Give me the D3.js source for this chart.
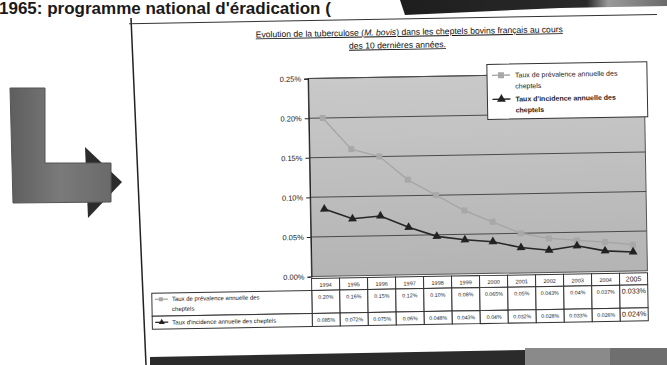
<!DOCTYPE html>
<html>
<head>
<meta charset="utf-8">
<script src="https://cdn.jsdelivr.net/npm/d3@7"></script>
<style>
body { margin: 0; background: #fff; }
svg { display: block; font-family: "Liberation Sans", Arial, sans-serif; }
</style>
</head>
<body>
<div id="slide"></div>
<script>
// data: yearly rates (in %) of bovine tuberculosis in French herds
var years = ["1994", "1995", "1996", "1997", "1998", "1999", "2000", "2001", "2002", "2003", "2004", "2005"];
var prevalence = [0.20, 0.16, 0.15, 0.12, 0.10, 0.08, 0.065, 0.05, 0.043, 0.04, 0.037, 0.033];
var incidence = [0.085, 0.072, 0.075, 0.06, 0.048, 0.043, 0.04, 0.032, 0.028, 0.033, 0.026, 0.024];
var yTicks = [0, 0.05, 0.10, 0.15, 0.20, 0.25];
var seriesNames = ["Taux de prévalence annuelle des cheptels", "Taux d'incidence annuelle des cheptels"];

var w = 667, h = 365;
var svg = d3.select("#slide").append("svg").attr("width", w).attr("height", h);

// percent label, 2 or 3 decimals
function pct(v) {
  var t = v.toFixed(3);
  if (t.slice(-1) === "0") t = t.slice(0, -1);
  return t + "%";
}

/////////////////////////
// slide decorations
/////////////////////////
var defs = svg.append("defs");
var band = defs.append("linearGradient").attr("id", "band").attr("x1", "0%").attr("x2", "100%");
band.append("stop").attr("offset", "0%").attr("stop-color", "#1e1e1e");
band.append("stop").attr("offset", "70%").attr("stop-color", "#2a2a2a");
band.append("stop").attr("offset", "78%").attr("stop-color", "#9a9a9a");
band.append("stop").attr("offset", "100%").attr("stop-color", "#6a6a6a");

svg.append("path")
  .attr("d", "M400,0 L667,0 L667,6 L560,8 L405,15 Z")
  .attr("fill", "url(#band)");

svg.append("text")
  .attr("x", -1).attr("y", 14)
  .attr("font-size", 17).attr("font-weight", "bold")
  .attr("fill", "#1a1a1a")
  .text("1965: programme national d'éradication (");

// L-shaped arrow on the left
var arrowGrad = defs.append("linearGradient").attr("id", "arrowGrad").attr("x1", "0%").attr("x2", "100%");
arrowGrad.append("stop").attr("offset", "0%").attr("stop-color", "#5e5e5e");
arrowGrad.append("stop").attr("offset", "50%").attr("stop-color", "#7a7a7a");
arrowGrad.append("stop").attr("offset", "100%").attr("stop-color", "#6a6a6a");
svg.append("path")
  .attr("d", "M85,147 L122,182 L88,218 Z")
  .attr("fill", "#2c2c2c");
svg.append("path")
  .attr("d", "M10,88 L45,88 L45,163 L111,163 L111,202 L13,203 Z")
  .attr("fill", "url(#arrowGrad)")
  .attr("stroke", "#555").attr("stroke-width", 1);

// bottom band
svg.append("path")
  .attr("d", "M150,357 L525,350 L525,365 L150,365 Z")
  .attr("fill", "#2b2b2b");
svg.append("rect").attr("x", 525).attr("y", 348).attr("width", 142).attr("height", 17).attr("fill", "#8a8a8a");
svg.append("rect").attr("x", 610).attr("y", 348).attr("width", 57).attr("height", 17).attr("fill", "#6f6f6f");

// left border of the chart frame
svg.append("path")
  .attr("d", "M131,18 L146,365")
  .attr("stroke", "#222").attr("stroke-width", 1.5).attr("fill", "none");

/////////////////////////
// chart (slightly tilted)
/////////////////////////
var g = svg.append("g").attr("transform", "rotate(-1,400,190)");

g.append("path").attr("d", "M132,19 L660,19").attr("stroke", "#333").attr("stroke-width", 1);

var title = g.append("text").attr("text-anchor", "middle").attr("font-size", 8.6)
  .attr("text-decoration", "underline").attr("fill", "#111");
title.append("tspan").attr("x", 412).attr("y", 35).text("Evolution de la tuberculose (");
title.append("tspan").attr("font-style", "italic").text("M. bovis");
title.append("tspan").text(") dans les cheptels bovins français au cours");
g.append("text").attr("text-anchor", "middle").attr("font-size", 8.6)
  .attr("text-decoration", "underline").attr("fill", "#111")
  .attr("x", 400).attr("y", 48).text("des 10 dernières années.");

var x = d3.scaleBand().domain(years).range([310, 646]);
var y = d3.scaleLinear().domain([0, 0.25]).range([275, 77]);

// plot area
var plotGrad = defs.append("linearGradient").attr("id", "plotGrad").attr("x1", "0%").attr("x2", "0%").attr("y1", "0%").attr("y2", "100%");
plotGrad.append("stop").attr("offset", "0%").attr("stop-color", "#c9c9c9");
plotGrad.append("stop").attr("offset", "100%").attr("stop-color", "#b4b4b4");
g.append("rect")
  .attr("x", 310).attr("y", y(0.25))
  .attr("width", 336).attr("height", y(0) - y(0.25))
  .attr("fill", "url(#plotGrad)")
  .attr("stroke", "#555").attr("stroke-width", 1);

g.selectAll("line.grid").data(yTicks.slice(1)).enter().append("line")
  .attr("class", "grid")
  .attr("x1", 310).attr("x2", 646)
  .attr("y1", function(d) { return y(d); }).attr("y2", function(d) { return y(d); })
  .attr("stroke", "#4a4a4a").attr("stroke-width", 1);

var yAxis = d3.axisLeft(y).tickValues(yTicks).tickSize(4).tickFormat(function(d) { return d.toFixed(2) + "%"; });
var ya = g.append("g").attr("transform", "translate(310,0)").call(yAxis);
ya.select(".domain").attr("stroke", "#222");
ya.selectAll(".tick line").attr("stroke", "#222");
ya.selectAll(".tick text").attr("font-size", 7.5).attr("fill", "#222")
  .attr("font-family", "Liberation Sans, Arial, sans-serif");

// series
var line = d3.line()
  .x(function(d, i) { return x(years[i]) + x.bandwidth() / 2; })
  .y(function(d) { return y(d); });

g.append("path").datum(prevalence).attr("d", line)
  .attr("fill", "none").attr("stroke", "#a6a6a6").attr("stroke-width", 1.4);
g.selectAll("rect.prev").data(prevalence).enter().append("rect")
  .attr("class", "prev")
  .attr("x", function(d, i) { return x(years[i]) + x.bandwidth() / 2 - 3; })
  .attr("y", function(d) { return y(d) - 3; })
  .attr("width", 6).attr("height", 6)
  .attr("fill", "#a8a8a8");

g.append("path").datum(incidence).attr("d", line)
  .attr("fill", "none").attr("stroke", "#262626").attr("stroke-width", 1.6);
var tri = d3.symbol().type(d3.symbolTriangle).size(34);
g.selectAll("path.inc").data(incidence).enter().append("path")
  .attr("class", "inc")
  .attr("transform", function(d, i) { return "translate(" + (x(years[i]) + x.bandwidth() / 2) + "," + y(d) + ")"; })
  .attr("d", tri)
  .attr("fill", "#222");

// legend
var lg = g.append("g");
lg.append("rect").attr("x", 489).attr("y", 66).attr("width", 160).attr("height", 55)
  .attr("fill", "#fff").attr("stroke", "#333").attr("stroke-width", 1);
var legendRows = [
  { name: ["Taux de prévalence annuelle des", "cheptels"], color: "#a6a6a6", y: 77, bold: false },
  { name: ["Taux d'incidence annuelle des", "cheptels"], color: "#222", y: 101, bold: true }
];
legendRows.forEach(function(r, k) {
  lg.append("line").attr("x1", 494).attr("x2", 512).attr("y1", r.y).attr("y2", r.y)
    .attr("stroke", r.color).attr("stroke-width", 1.4);
  if (k === 0) {
    lg.append("rect").attr("x", 500).attr("y", r.y - 3).attr("width", 6).attr("height", 6).attr("fill", "#a8a8a8");
  } else {
    lg.append("path").attr("transform", "translate(503," + r.y + ")").attr("d", tri).attr("fill", "#222");
  }
  r.name.forEach(function(t, j) {
    lg.append("text").attr("x", 517).attr("y", r.y + 2.5 + j * 11)
      .attr("font-size", 7).attr("fill", "#222")
      .attr("font-weight", r.bold ? "bold" : "normal")
      .text(t);
  });
});

// data table under the plot
var rowTop = [277, 289, 312, 325];
var tbl = g.append("g");
tbl.selectAll("rect.head").data(years).enter().append("rect")
  .attr("class", "head")
  .attr("x", function(d) { return x(d); }).attr("y", rowTop[0])
  .attr("width", x.bandwidth()).attr("height", rowTop[1] - rowTop[0])
  .attr("fill", "#fff").attr("stroke", "#333");
tbl.selectAll("text.head").data(years).enter().append("text")
  .attr("class", "head")
  .attr("x", function(d) { return x(d) + x.bandwidth() / 2; }).attr("y", rowTop[0] + 8.5)
  .attr("text-anchor", "middle").attr("font-size", function(d, i) { return i === 11 ? 7 : 5.5; })
  .attr("fill", "#222").text(function(d) { return d; });

[prevalence, incidence].forEach(function(vals, r) {
  tbl.selectAll("rect.r" + r).data(vals).enter().append("rect")
    .attr("class", "r" + r)
    .attr("x", function(d, i) { return x(years[i]); }).attr("y", rowTop[r + 1])
    .attr("width", x.bandwidth()).attr("height", rowTop[r + 2] - rowTop[r + 1])
    .attr("fill", "#fff").attr("stroke", "#333");
  tbl.selectAll("text.r" + r).data(vals).enter().append("text")
    .attr("class", "r" + r)
    .attr("x", function(d, i) { return x(years[i]) + x.bandwidth() / 2; })
    .attr("y", rowTop[r + 1] + 8.5)
    .attr("text-anchor", "middle")
    .attr("font-size", function(d, i) { return i === 11 ? 7.2 : 5.3; })
    .attr("fill", "#222")
    .text(function(d) { return pct(d); });

  // row header with key
  tbl.append("rect").attr("x", 150).attr("y", rowTop[r + 1])
    .attr("width", 160).attr("height", rowTop[r + 2] - rowTop[r + 1])
    .attr("fill", "#fff").attr("stroke", "#333");
  var ky = rowTop[r + 1] + 6;
  tbl.append("line").attr("x1", 153).attr("x2", 166).attr("y1", ky).attr("y2", ky)
    .attr("stroke", r === 0 ? "#a6a6a6" : "#222").attr("stroke-width", 1.3);
  if (r === 0) {
    tbl.append("rect").attr("x", 157).attr("y", ky - 2).attr("width", 4).attr("height", 4).attr("fill", "#a8a8a8");
  } else {
    tbl.append("path").attr("transform", "translate(159.5," + ky + ")")
      .attr("d", d3.symbol().type(d3.symbolTriangle).size(16)).attr("fill", "#222");
  }
});
tbl.append("text").attr("x", 170).attr("y", rowTop[1] + 8).attr("font-size", 6).attr("fill", "#222")
  .text("Taux de prévalence annuelle des");
tbl.append("text").attr("x", 170).attr("y", rowTop[1] + 18).attr("font-size", 6).attr("fill", "#222")
  .text("cheptels");
tbl.append("text").attr("x", 170).attr("y", rowTop[2] + 8.5).attr("font-size", 6).attr("fill", "#222")
  .text(seriesNames[1]);
</script>
</body>
</html>
